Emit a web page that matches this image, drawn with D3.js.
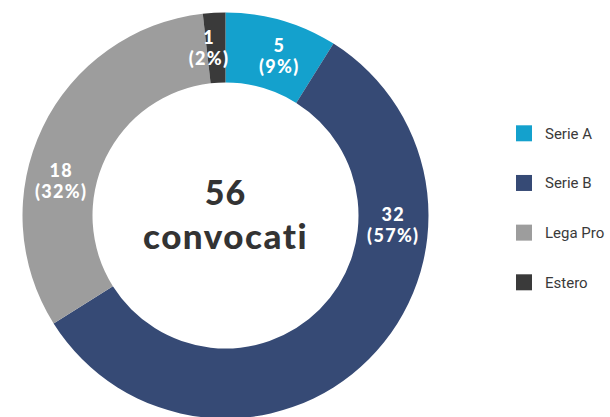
<!DOCTYPE html>
<html><head><meta charset="utf-8">
<script src="https://cdn.jsdelivr.net/npm/d3@7"></script>
<style>html,body{margin:0;padding:0;background:#fff;} svg{display:block;}</style>
</head><body>
<svg id="chart" width="610" height="417"></svg>
<script>
const categories = ["Serie A", "Serie B", "Lega Pro", "Estero"];
const values = [5, 32, 18, 1];
const colors = ["#14a1cd", "#364a75", "#9d9d9d", "#3a3a3a"];
const totalLabel = ["56", "convocati"];

const svg = d3.select("#chart");
const cx = 225.5, cy = 215.5, R = 203, r = 133;
const total = d3.sum(values);
const data = categories.map((c, i) => ({cat: c, value: values[i], color: colors[i]}));

const pie = d3.pie().sort(null).value(d => d.value);
const arcs = pie(data);
const arc = d3.arc().innerRadius(r).outerRadius(R);
const g = svg.append("g").attr("transform", `translate(${cx},${cy})`);
g.selectAll("path").data(arcs).join("path").attr("d", arc).attr("fill", d => d.data.color);

// label placement angle adjustments (degrees) as in the original layout
const labelShift = {"Serie A": 2.6, "Serie B": -41.8, "Lega Pro": -13.7, "Estero": -2.4};
const labelR = (r + R) / 2;
const fmt = d3.format(".0%");
const lab = g.selectAll("text.lbl").data(arcs).join("text").attr("class", "lbl")
  .attr("transform", d => {
    const a = (d.startAngle + d.endAngle) / 2 + labelShift[d.data.cat] * Math.PI / 180;
    return `translate(${labelR * Math.sin(a)},${-labelR * Math.cos(a)})`;
  })
  .attr("text-anchor", "middle")
  .attr("fill", "#fff")
  .style("font-family", "Lato, sans-serif").style("font-weight", 900).style("font-size", "18px")
  .style("letter-spacing", "1.3px");
lab.append("tspan").attr("x", 0).attr("y", -4).text(d => d.data.value);
lab.append("tspan").attr("x", 0).attr("y", 17).text(d => "(" + fmt(d.data.value / total) + ")");

const center = g.append("text").attr("text-anchor", "middle").attr("fill", "#333")
  .style("font-family", "Lato, sans-serif").style("font-weight", 900);
center.append("tspan").attr("x", 0).attr("y", -11).style("font-size", "34px").style("letter-spacing", "1px").text(totalLabel[0]);
center.append("tspan").attr("x", 0).attr("y", 33).style("font-size", "35px").style("letter-spacing", "1.5px").text(totalLabel[1]);

const ly = d3.scalePoint().domain(categories).range([133.3, 282.3]);
const leg = svg.append("g").selectAll("g").data(data).join("g")
  .attr("transform", d => `translate(516,${ly(d.cat)})`);
leg.append("rect").attr("x", 0).attr("y", -8).attr("width", 16).attr("height", 16).attr("fill", d => d.color);
leg.append("text").attr("x", 29).attr("y", 5.5).text(d => d.cat)
  .attr("fill", "#3a3a3a").style("font-family", "Roboto, sans-serif").style("font-size", "15px");
</script>
</body></html>
